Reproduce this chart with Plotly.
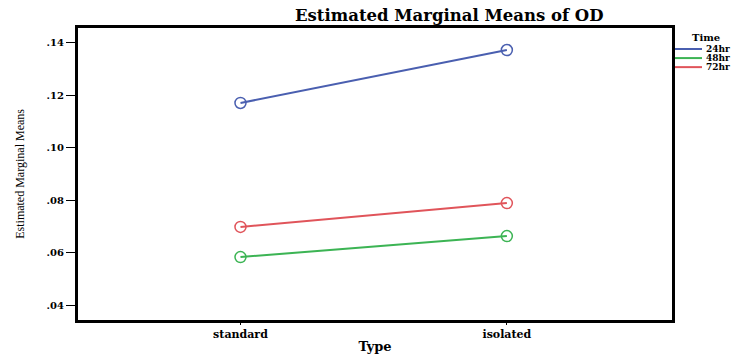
import plotly.graph_objects as go

types = ["standard", "isolated"]
series_names = ["24hr", "48hr", "72hr"]
values_24hr = [0.1171, 0.1373]
values_48hr = [0.0583, 0.0663]
values_72hr = [0.0698, 0.0789]
y_tick_vals = [0.04, 0.06, 0.08, 0.10, 0.12, 0.14]
y_tick_text = [".04", ".06", ".08", ".10", ".12", ".14"]

series_values = [values_24hr, values_48hr, values_72hr]
colors = ["#4a5fb0", "#3cb454", "#e0545a"]

SERIF = "DejaVu Serif"
fig = go.Figure()
for name, vals, col in zip(series_names, series_values, colors):
    fig.add_trace(go.Scatter(
        x=types, y=vals, name=name, mode="lines+markers",
        line=dict(color=col, width=2),
        marker=dict(symbol="circle-open", size=11, color=col, line=dict(width=1.5, color=col)),
        showlegend=False,
    ))

# custom compact legend (SPSS style)
fig.add_annotation(xref="paper", yref="paper", x=1.03, y=0.969, xanchor="left", yanchor="middle",
                   text="<b>Time</b>", showarrow=False, font=dict(family=SERIF, size=10, color="black"))
for i, (name, col) in enumerate(zip(series_names, colors)):
    ypos = 0.928 - i * 0.031
    fig.add_shape(type="line", xref="paper", yref="paper", x0=1.005, x1=1.0505, y0=ypos, y1=ypos,
                  line=dict(color=col, width=2))
    fig.add_annotation(xref="paper", yref="paper", x=1.054, y=ypos, xanchor="left", yanchor="middle",
                       text="<b>" + name + "</b>", showarrow=False,
                       font=dict(family=SERIF, size=9, color="black"))

# y-axis title placed as annotation (left of tick labels)
fig.add_annotation(xref="paper", yref="paper", x=-0.098, y=0.5, xanchor="center", yanchor="middle",
                   text="Estimated Marginal Means", textangle=-90, showarrow=False,
                   font=dict(family="Liberation Serif", size=12, color="black"))

fig.update_layout(
    width=738, height=354,
    margin=dict(l=78, r=66, t=28, b=34),
    plot_bgcolor="white", paper_bgcolor="white",
    title=dict(text="<b>Estimated Marginal Means of OD</b>", x=0.625, xref="paper", xanchor="center",
               y=0.958, yref="container", yanchor="middle",
               font=dict(family=SERIF, size=16.5, color="black")),
    xaxis=dict(type="category", range=[-0.61, 1.62], showgrid=False, zeroline=False, automargin=False,
               showline=True, linecolor="black", linewidth=3, mirror=True,
               ticks="outside", ticklen=2, tickwidth=1, tickcolor="black",
               tickfont=dict(family=SERIF, size=11, color="black"),
               tickvals=types, ticktext=["<b>" + t + "</b>" for t in types],
               title=dict(text="<b>Type</b>", font=dict(family=SERIF, size=13, color="black"), standoff=4)),
    yaxis=dict(range=[0.0343, 0.1457], showgrid=False, zeroline=False, automargin=False,
               showline=True, linecolor="black", linewidth=3, mirror=True,
               ticks="outside", ticklen=9, tickwidth=1, tickcolor="black",
               tickvals=y_tick_vals, ticktext=["<b>" + t + "</b>" for t in y_tick_text],
               tickfont=dict(family=SERIF, size=10, color="black")),
)

fig.write_html("out.html", config={"displayModeBar": False},
               post_script="document.body.style.margin='0';")
